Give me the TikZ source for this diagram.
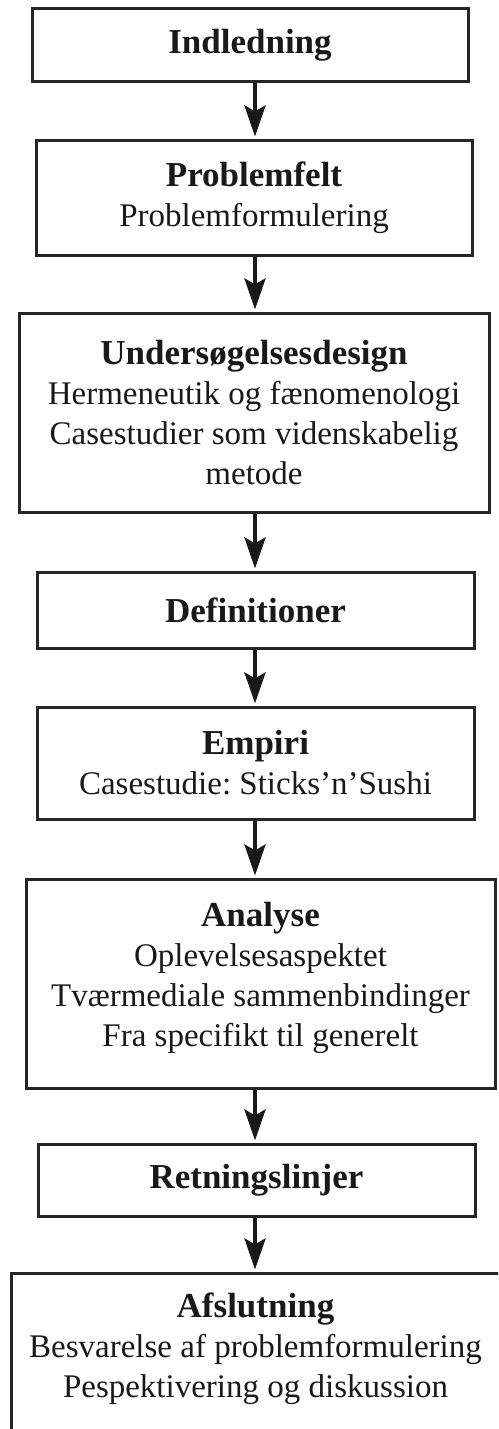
\documentclass[tikz,border=0pt]{standalone}
\usepackage{fontspec}
\setmainfont{Liberation Serif}
\usetikzlibrary{arrows.meta}
\frenchspacing

\newcommand{\overskrift}[1]{{\fontsize{35}{40}\selectfont\bfseries #1}}

\begin{document}
\begin{tikzpicture}[x=1pt, y=-1pt,
    boks/.style={draw=black!85, line width=3pt, fill=white, align=center, inner sep=0pt,
      font=\fontsize{33}{40}\selectfont, text=black!90},
    pil/.style={draw=black!90, line width=4.5pt, -{Stealth[length=31pt, width=21pt, inset=6pt]}, shorten >=2pt}]
  \clip (0,0) rectangle (498,1429);
  \coordinate (akse) at (255,0);

  % kasserne
  \node[boks, minimum width=436pt, minimum height=72pt] (indledning) at (250,45) {\overskrift{Indledning}};
  \node[boks, minimum width=436pt, minimum height=115pt] (problemfelt) at (254,197.5) {\overskrift{Problemfelt}\\ Problemformulering};
  \node[boks, minimum width=470pt, minimum height=199pt] (design) at (254,412.5) {\overskrift{Undersøgelsesdesign}\\ Hermeneutik og fænomenologi\\ Casestudier som videnskabelig\\ metode};
  \node[boks, minimum width=437pt, minimum height=76pt] (definitioner) at (255.5,610) {\overskrift{Definitioner}};
  \node[boks, minimum width=437pt, minimum height=112pt] (empiri) at (255.5,763) {\overskrift{Empiri}\\ Casestudie: Sticks’n’Sushi};
  \node[boks, minimum width=469pt, minimum height=209pt, text depth=18pt] (analyse) at (260.5,983.5) {\overskrift{Analyse}\\ Oplevelsesaspektet\\ Tværmediale sammenbindinger\\ Fra specifikt til generelt};
  \node[boks, minimum width=437pt, minimum height=72pt] (retning) at (256.5,1180) {\overskrift{Retningslinjer}};
  \node[boks, minimum width=489pt, minimum height=167pt, text depth=23pt] (afslutning) at (255.5,1356.5) {\overskrift{Afslutning}\\ Besvarelse af problemformulering\\ Pespektivering og diskussion};

  % pilene
  \draw[pil] (indledning.south -| akse) -- (problemfelt.north -| akse);
  \draw[pil] (problemfelt.south -| akse) -- (design.north -| akse);
  \draw[pil] (design.south -| akse) -- (definitioner.north -| akse);
  \draw[pil] (definitioner.south -| akse) -- (empiri.north -| akse);
  \draw[pil] (empiri.south -| akse) -- (analyse.north -| akse);
  \draw[pil] (analyse.south -| akse) -- (retning.north -| akse);
  \draw[pil] (retning.south -| akse) -- (afslutning.north -| akse);
\end{tikzpicture}
\end{document}
